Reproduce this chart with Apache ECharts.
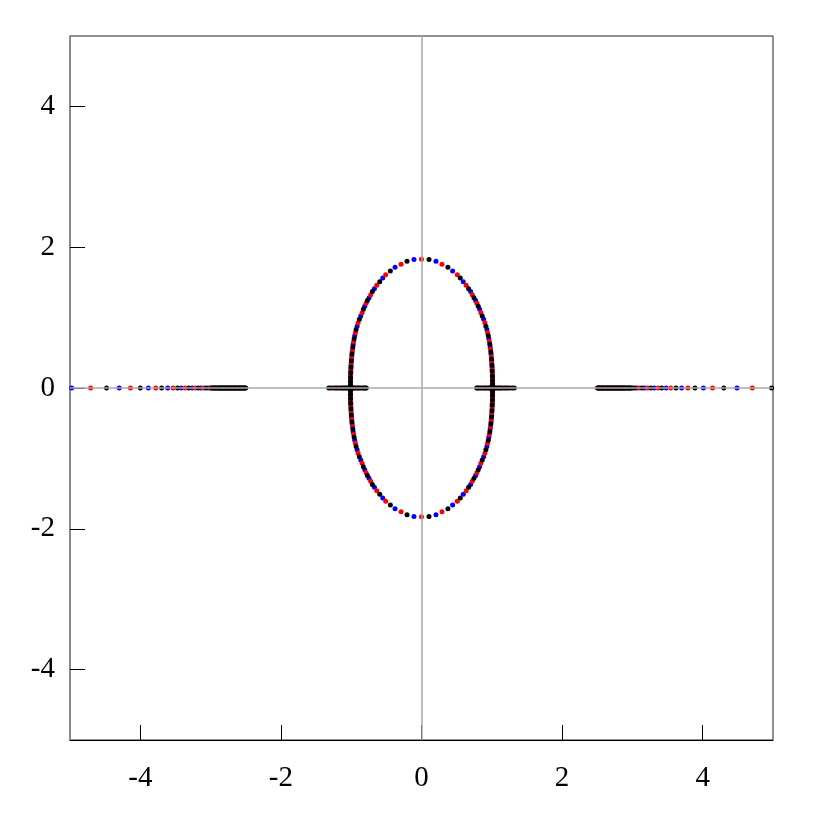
<!DOCTYPE html>
<html>
<head>
<meta charset="utf-8">
<script src="https://cdn.jsdelivr.net/npm/echarts@6/dist/echarts.min.js"></script>
<style>html,body{margin:0;padding:0;background:#fff}#c{width:817px;height:817px}</style>
</head>
<body>
<div id="c"></div>
<script>
// tick values for both axes
const tickValues = [-4, -2, 0, 2, 4];

// ---- closed curve points (x, y) ----
const redCurve = [
  [0,1.828],[0.291,1.757],[0.509,1.609],[0.636,1.459],[0.722,1.325],[0.788,1.203],[0.845,1.070],[0.902,0.928],[0.940,0.785],[0.965,0.660],[0.982,0.547],[0.993,0.445],[1.000,0.352],[1.005,0.268],[1.008,0.193],[1.010,0.127],[1.010,0.070],[1.010,0.022],
  [0,-1.828],[0.291,-1.757],[0.509,-1.609],[0.636,-1.459],[0.722,-1.325],[0.788,-1.203],[0.845,-1.070],[0.902,-0.928],[0.940,-0.785],[0.965,-0.660],[0.982,-0.547],[0.993,-0.445],[1.000,-0.352],[1.005,-0.268],[1.008,-0.193],[1.010,-0.127],[1.010,-0.070],[1.010,-0.022],
  [-0.291,1.757],[-0.509,1.609],[-0.636,1.459],[-0.722,1.325],[-0.788,1.203],[-0.845,1.070],[-0.902,0.928],[-0.940,0.785],[-0.965,0.660],[-0.982,0.547],[-0.993,0.445],[-1.000,0.352],[-1.005,0.268],[-1.008,0.193],[-1.010,0.127],[-1.010,0.070],[-1.010,0.022],
  [-0.291,-1.757],[-0.509,-1.609],[-0.636,-1.459],[-0.722,-1.325],[-0.788,-1.203],[-0.845,-1.070],[-0.902,-0.928],[-0.940,-0.785],[-0.965,-0.660],[-0.982,-0.547],[-0.993,-0.445],[-1.000,-0.352],[-1.005,-0.268],[-1.008,-0.193],[-1.010,-0.127],[-1.010,-0.070],[-1.010,-0.022]
];
const blackCurve = [
  [0.107,1.826],[0.376,1.714],[0.551,1.563],[0.670,1.410],[0.746,1.283],[0.807,1.160],[0.864,1.023],[0.916,0.876],[0.950,0.742],[0.972,0.620],[0.986,0.512],[0.996,0.413],[1.002,0.323],[1.006,0.242],[1.009,0.170],[1.010,0.107],[1.010,0.053],[1.010,0.010],
  [0.107,-1.826],[0.376,-1.714],[0.551,-1.563],[0.670,-1.410],[0.746,-1.283],[0.807,-1.160],[0.864,-1.023],[0.916,-0.876],[0.950,-0.742],[0.972,-0.620],[0.986,-0.512],[0.996,-0.413],[1.002,-0.323],[1.006,-0.242],[1.009,-0.170],[1.010,-0.107],[1.010,-0.053],[1.010,-0.010],
  [-0.206,1.800],[-0.443,1.662],[-0.594,1.510],[-0.699,1.371],[-0.770,1.243],[-0.827,1.118],[-0.884,0.976],[-0.930,0.830],[-0.958,0.700],[-0.977,0.583],[-0.990,0.478],[-0.998,0.382],[-1.004,0.295],[-1.007,0.217],[-1.009,0.148],[-1.010,0.088],[-1.010,0.037],
  [-0.206,-1.800],[-0.443,-1.662],[-0.594,-1.510],[-0.699,-1.371],[-0.770,-1.243],[-0.827,-1.118],[-0.884,-0.976],[-0.930,-0.830],[-0.958,-0.700],[-0.977,-0.583],[-0.990,-0.478],[-0.998,-0.382],[-1.004,-0.295],[-1.007,-0.217],[-1.009,-0.148],[-1.010,-0.088],[-1.010,-0.037]
];
const blueCurve = [
  [0.206,1.800],[0.443,1.662],[0.594,1.510],[0.699,1.371],[0.770,1.243],[0.827,1.118],[0.884,0.976],[0.930,0.830],[0.958,0.700],[0.977,0.583],[0.990,0.478],[0.998,0.382],[1.004,0.295],[1.007,0.217],[1.009,0.148],[1.010,0.088],[1.010,0.037],
  [0.206,-1.800],[0.443,-1.662],[0.594,-1.510],[0.699,-1.371],[0.770,-1.243],[0.827,-1.118],[0.884,-0.976],[0.930,-0.830],[0.958,-0.700],[0.977,-0.583],[0.990,-0.478],[0.998,-0.382],[1.004,-0.295],[1.007,-0.217],[1.009,-0.148],[1.010,-0.088],[1.010,-0.037],
  [-0.107,1.826],[-0.376,1.714],[-0.551,1.563],[-0.670,1.410],[-0.746,1.283],[-0.807,1.160],[-0.864,1.023],[-0.916,0.876],[-0.950,0.742],[-0.972,0.620],[-0.986,0.512],[-0.996,0.413],[-1.002,0.323],[-1.006,0.242],[-1.009,0.170],[-1.010,0.107],[-1.010,0.053],[-1.010,0.010],
  [-0.107,-1.826],[-0.376,-1.714],[-0.551,-1.563],[-0.670,-1.410],[-0.746,-1.283],[-0.807,-1.160],[-0.864,-1.023],[-0.916,-0.876],[-0.950,-0.742],[-0.972,-0.620],[-0.986,-0.512],[-0.996,-0.413],[-1.002,-0.323],[-1.006,-0.242],[-1.009,-0.170],[-1.010,-0.107],[-1.010,-0.053],[-1.010,-0.010]
];

const blackAxisX = [
  4.98,4.30,3.89,3.62,3.417,3.262,3.136,3.034,2.99,2.96,2.950,2.94,2.91,2.89,2.880,2.87,2.85,2.83,2.820,2.81,2.79,2.77,2.760,2.75,2.73,2.71,2.700,2.69,2.67,2.65,2.640,2.63,2.61,2.59,2.580,2.57,2.55,2.53,2.520,2.51,
  -4.48,-4.00,-3.696,-3.47,-3.31,-3.175,-3.066,-2.99,-2.976,-2.96,-2.94,-2.92,-2.902,-2.89,-2.87,-2.85,-2.840,-2.83,-2.81,-2.79,-2.780,-2.77,-2.75,-2.73,-2.720,-2.71,-2.69,-2.67,-2.660,-2.65,-2.63,-2.61,-2.600,-2.59,-2.57,-2.55,-2.540,-2.53,-2.51,-2.50,
  0.785,0.80,0.82,0.84,0.88,0.90,0.92,0.955,0.97,1.03,1.045,1.08,1.10,1.12,1.14,1.185,1.21,1.235,1.29,1.32,
  -0.785,-0.80,-0.82,-0.84,-0.88,-0.90,-0.92,-0.955,-0.97,-1.03,-1.045,-1.08,-1.10,-1.12,-1.14,-1.185,-1.21,-1.235,-1.29,-1.32
];
const redAxisX = [
  4.706,4.14,3.79,3.545,3.364,3.217,3.100,3.004,2.925,2.860,2.800,2.740,2.680,2.620,2.560,2.500,
  -4.706,-4.14,-3.78,-3.535,-3.364,-3.217,-3.100,-3.004,-2.925,-2.860,-2.800,-2.740,-2.680,-2.620,-2.560,
  0.86,0.94,1.0,1.06,1.16,1.26,
  -0.86,-0.94,-1.06,-1.16,-1.26
];
const blueAxisX = [
  4.488,4.01,3.70,3.48,3.31,3.175,3.066,2.976,2.902,2.840,2.780,2.720,2.660,2.600,2.540,
  -4.976,-4.30,-3.886,-3.61,-3.417,-3.262,-3.136,-3.034,-2.950,-2.880,-2.820,-2.760,-2.700,-2.640,-2.580,-2.520,
  0.985,1.015,
  -0.985,-1.0,-1.015
];

const toPts = xs => xs.map(x => [x, 0]);
const FONT = 'Liberation Serif';

const chart = echarts.init(document.getElementById('c'), null, {renderer: 'canvas'});
const mkSeries = (name, color, data, z) => ({
  name, type: 'scatter', data, symbol: 'circle', symbolSize: 5, z,
  itemStyle: {color, borderWidth: 0, opacity: 1}, silent: true, animation: false
});

chart.setOption({
  animation: false,
  backgroundColor: '#fff',
  grid: {left: 70, right: 44, top: 36, bottom: 77, show: true, borderColor: '#222', borderWidth: 1, backgroundColor: 'transparent'},
  xAxis: {
    type: 'value', min: -5, max: 5,
    axisLine: {show: true, onZero: false, lineStyle: {color: '#000', width: 1}},
    axisTick: {show: true, inside: true, length: 15, customValues: tickValues, lineStyle: {color: '#000', width: 1}},
    axisLabel: {show: true, customValues: tickValues, fontFamily: FONT, fontSize: 29, color: '#000', margin: 24},
    splitLine: {show: false}
  },
  yAxis: {
    type: 'value', min: -5, max: 5,
    axisLine: {show: true, onZero: false, lineStyle: {color: '#888', width: 1.5}},
    axisTick: {show: true, inside: true, length: 15, customValues: tickValues, lineStyle: {color: '#000', width: 1}},
    axisLabel: {show: true, customValues: tickValues, fontFamily: FONT, fontSize: 29, color: '#000', margin: 15},
    splitLine: {show: false}
  },
  series: [
    {
      type: 'line', data: [], z: 1, silent: true,
      markLine: {
        silent: true, symbol: ['none', 'none'], animation: false,
        label: {show: false},
        lineStyle: {color: '#aaa', width: 1.5, type: 'solid'},
        data: [{xAxis: 0}, {yAxis: 0}]
      }
    },
    mkSeries('blue', '#0000ff', blueCurve.concat(toPts(blueAxisX)), 2),
    mkSeries('red', '#ff0000', redCurve.concat(toPts(redAxisX)), 3),
    mkSeries('black', '#000000', blackCurve.concat(toPts(blackAxisX)), 4)
  ]
});
</script>
</body>
</html>
